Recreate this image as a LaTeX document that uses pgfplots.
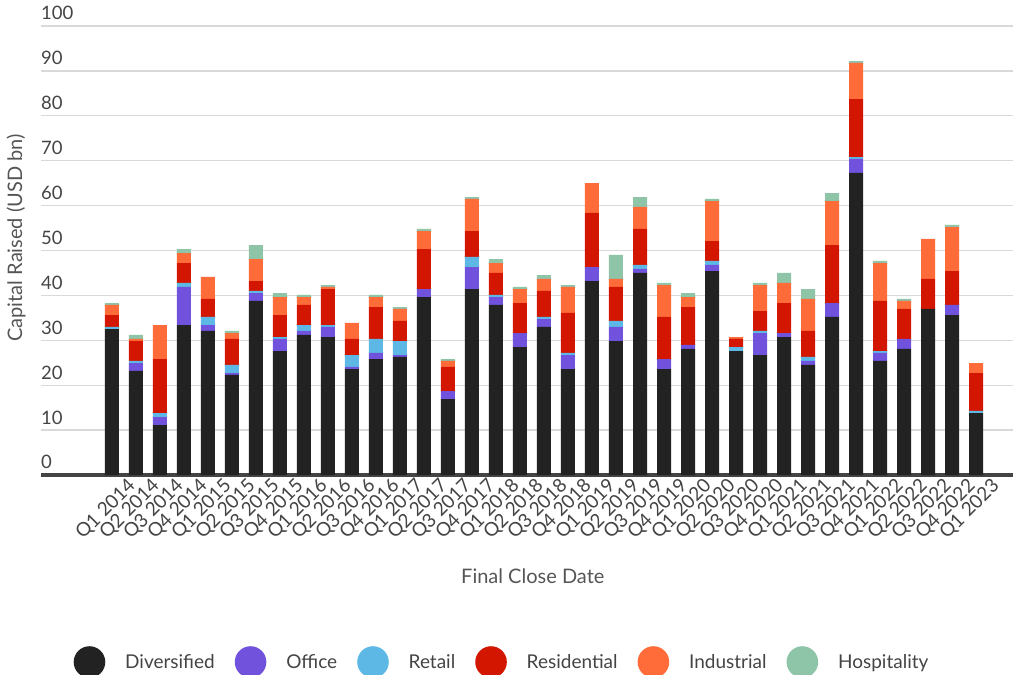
\documentclass[border=0pt]{standalone}
\usepackage{pgfplots}
\pgfplotsset{compat=1.18}
\usepackage{pgfplotstable}
\usepackage{fontspec}
\setmainfont{Lato}

\definecolor{cDiv}{HTML}{222222}
\definecolor{cOff}{HTML}{7152DC}
\definecolor{cRet}{HTML}{5DB8E6}
\definecolor{cRes}{HTML}{D21600}
\definecolor{cInd}{HTML}{FF6B39}
\definecolor{cHos}{HTML}{8EC4A8}
\definecolor{gridgray}{HTML}{D9D9D9}
\definecolor{axisgray}{HTML}{444444}
\definecolor{textgray}{HTML}{444444}
\definecolor{titlegray}{HTML}{555555}

% Capital raised per quarter (USD bn), by sector
\pgfplotstableread{
x  div  off  ret  res  ind  hos
0  32.5 0.0  0.5  2.6  2.3  0.4
1  23.2 1.7  0.5  4.4  0.5  0.9
2  11.1 1.8  0.9  12.0 7.6  0.0
3  33.4 8.5  0.9  4.4  2.2  0.9
4  32.1 1.3  1.8  4.0  4.9  0.0
5  22.3 0.4  1.8  5.8  1.3  0.5
6  38.8 1.7  0.5  2.2  4.9  3.1
7  27.6 2.7  0.4  4.9  4.0  0.9
8  31.2 0.9  1.3  4.5  1.7  0.5
9  30.7 2.3  0.4  8.0  0.5  0.4
10 23.6 0.5  2.6  3.6  3.6  0.0
11 25.8 1.4  3.1  7.1  2.2  0.5
12 26.3 0.4  3.1  4.5  2.7  0.4
13 39.6 1.8  0.0  8.9  4.0  0.5
14 16.9 1.8  0.0  5.4  1.3  0.4
15 41.4 4.9  2.3  5.7  7.2  0.4
16 37.9 1.7  0.5  4.9  2.2  0.9
17 28.5 3.1  0.0  6.7  3.1  0.5
18 33.0 1.7  0.5  5.8  2.7  0.8
19 23.6 3.1  0.5  8.9  5.8  0.4
20 43.2 3.1  0.0  12.1 6.6  0.0
21 29.8 3.2  1.3  7.6  1.8  5.3
22 45.0 0.9  0.9  8.0  4.9  2.2
23 23.6 2.2  0.0  9.4  7.1  0.5
24 28.1 0.9  0.0  8.4  2.2  0.9
25 45.4 1.4  0.9  4.4  8.9  0.5
26 27.6 0.0  0.9  1.8  0.4  0.0
27 26.7 4.9  0.5  4.4  5.8  0.5
28 30.7 0.9  0.0  6.7  4.5  2.2
29 24.5 0.9  0.9  5.8  7.1  2.2
30 35.2 3.1  0.0  12.9 9.8  1.8
31 67.3 3.1  0.4  12.9 8.1  0.4
32 25.4 1.8  0.4  11.2 8.4  0.5
33 28.1 2.2  0.0  6.7  1.8  0.4
34 37.0 0.0  0.0  6.7  8.9  0.0
35 35.6 2.3  0.0  7.5  9.8  0.5
36 13.8 0.0  0.5  8.4  2.2  0.0
}\capdata

\pgfplotsset{
  circ legend/.style={
    legend image code/.code={
      \fill[##1] (15.8pt,0pt) circle (15.8pt);
      \path (51.5pt,0pt);
    }
  }
}

\begin{document}
\begin{tikzpicture}[x=1pt,y=1pt]
\path[use as bounding box] (0,0) rectangle (1018,675);
\begin{axis}[
  at={(41pt,200pt)}, anchor=south west,
  scale only axis, width=972pt, height=449pt,
  xmin=-2.958, xmax=37.542, ymin=0, ymax=100,
  ybar stacked, bar width=14pt,
  clip=false,
  axis line style={draw=none},
  major tick length=0pt,
  ytick={0,10,...,100},
  ymajorgrids,
  grid style={color=gridgray, line width=1.3pt},
  /pgf/number format/assume math mode=true,
  yticklabel style={anchor=base west, inner sep=0pt, yshift=6pt,
    font=\fontsize{18.5}{18.5}\selectfont, text=textgray},
  xtick={0,...,36},
  xticklabels={Q1 2014,Q2 2014,Q3 2014,Q4 2014,Q1 2015,Q2 2015,Q3 2015,Q4 2015,
    Q1 2016,Q2 2016,Q3 2016,Q4 2016,Q1 2017,Q2 2017,Q3 2017,Q4 2017,
    Q1 2018,Q2 2018,Q3 2018,Q4 2018,Q1 2019,Q2 2019,Q3 2019,Q4 2019,
    Q1 2020,Q2 2020,Q3 2020,Q4 2020,Q1 2021,Q2 2021,Q3 2021,Q4 2021,
    Q1 2022,Q2 2022,Q3 2022,Q4 2022,Q1 2023},
  xticklabel style={rotate=45, anchor=east, inner sep=0pt, xshift=9pt, yshift=-20pt,
    font=\fontsize{19}{19}\selectfont, text=textgray},
  xlabel={Final Close Date},
  xlabel style={at={(axis description cs:0.506,-0.225)}, anchor=center,
    font=\fontsize{20}{20}\selectfont, text=titlegray},
  ylabel={Capital Raised (USD bn)},
  ylabel style={at={(axis description cs:-0.0257,0.528)}, anchor=center,
    font=\fontsize{20}{20}\selectfont, text=titlegray},
  legend columns=6,
  legend style={at={(axis description cs:0.4733,-0.4165)}, anchor=center,
    draw=none, fill=none, inner sep=0pt, column sep=0pt,
    nodes={inner sep=0pt, font=\fontsize{19}{19}\selectfont, text=textgray},
    /tikz/every even column/.append style={column sep=20pt}},
]
\addplot[fill=cDiv, draw=none, circ legend] table[x=x, y=div] {\capdata};
\addplot[fill=cOff, draw=none, circ legend] table[x=x, y=off] {\capdata};
\addplot[fill=cRet, draw=none, circ legend] table[x=x, y=ret] {\capdata};
\addplot[fill=cRes, draw=none, circ legend] table[x=x, y=res] {\capdata};
\addplot[fill=cInd, draw=none, circ legend] table[x=x, y=ind] {\capdata};
\addplot[fill=cHos, draw=none, circ legend] table[x=x, y=hos] {\capdata};
\legend{Diversified,Office,Retail,Residential,Industrial,Hospitality}
\draw[line width=4pt, axisgray] (axis cs:-2.958,0) -- (axis cs:37.542,0);
\end{axis}
\end{tikzpicture}
\end{document}
